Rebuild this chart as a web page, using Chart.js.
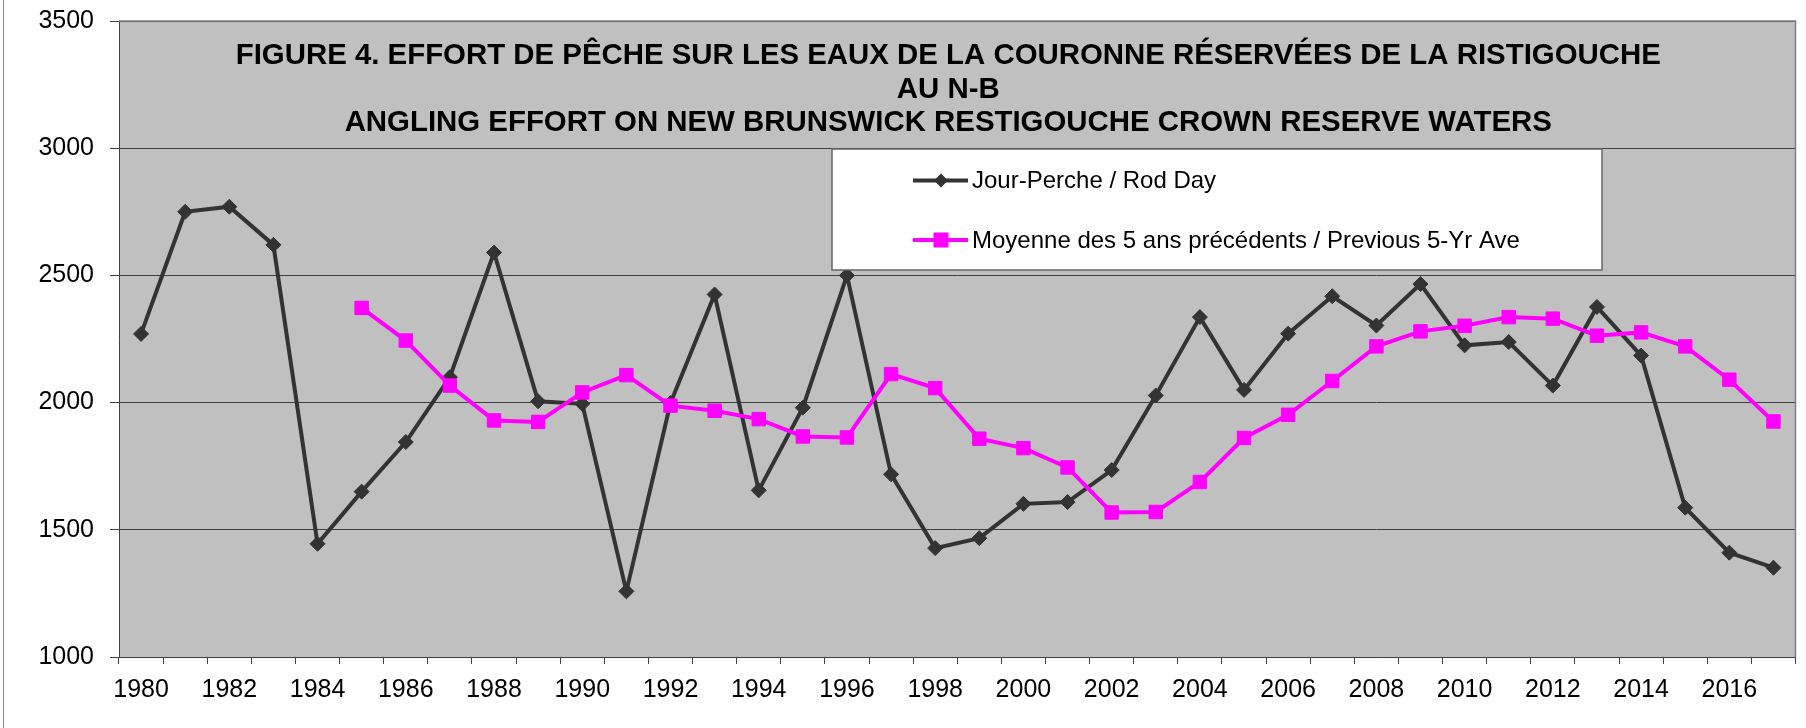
<!DOCTYPE html>
<html>
<head>
<meta charset="utf-8">
<script src="https://cdn.jsdelivr.net/npm/chart.js@4.4.1/dist/chart.umd.min.js"></script>
<style>
  html, body { margin: 0; padding: 0; background: #ffffff; }
  #wrap { width: 1806px; height: 728px; position: relative; }
</style>
</head>
<body>
<div id="wrap"><canvas id="myChart" width="1806" height="728"></canvas></div>
<script>
// Categories (years)
const years = ['1980','1981','1982','1983','1984','1985','1986','1987','1988','1989',
               '1990','1991','1992','1993','1994','1995','1996','1997','1998','1999',
               '2000','2001','2002','2003','2004','2005','2006','2007','2008','2009',
               '2010','2011','2012','2013','2014','2015','2016','2017'];

// Jour-Perche / Rod Day
const rodDays = [2270, 2750, 2770, 2620, 1445, 1650, 1845, 2100, 2590, 2005,
                 1995, 1258, 1998, 2425, 1655, 1980, 2500, 1718, 1428, 1467,
                 1602, 1609, 1735, 2028, 2336, 2050, 2271, 2418, 2303, 2466,
                 2225, 2238, 2067, 2376, 2185, 1587, 1410, 1351];

// Moyenne des 5 ans précédents / Previous 5-Yr Ave
const prevAve = [null, null, null, null, null, 2372, 2244, 2067, 1930, 1924,
                 2040, 2108, 1988, 1968, 1935, 1867, 1863, 2112, 2057, 1858,
                 1821, 1745, 1568, 1570, 1688, 1861, 1952, 2085, 2221, 2280,
                 2302, 2336, 2330, 2263, 2276, 2221, 2090, 1926];

const yTicks = [1000, 1500, 2000, 2500, 3000, 3500];

const titleLines = [
  'FIGURE 4. EFFORT DE PÊCHE SUR LES EAUX DE LA COURONNE RÉSERVÉES DE LA RISTIGOUCHE',
  'AU N-B',
  'ANGLING EFFORT ON NEW BRUNSWICK RESTIGOUCHE CROWN RESERVE WATERS'
];

const FONT = '"Liberation Sans", Arial, sans-serif';
Chart.defaults.font.family = FONT;
Chart.defaults.color = '#000000';

// gray plot background + outer border line
const plotBg = {
  id: 'plotBg',
  beforeDraw(chart) {
    const { ctx, chartArea: a } = chart;
    ctx.save();
    ctx.fillStyle = '#c0c0c0';
    ctx.fillRect(a.left, a.top, a.right - a.left, a.bottom - a.top);
    ctx.strokeStyle = '#888888';
    ctx.lineWidth = 1;
    ctx.beginPath();
    ctx.moveTo(3.5, 0);
    ctx.lineTo(3.5, 728);
    ctx.stroke();
    ctx.restore();
  },
  afterDraw(chart) {
    const { ctx, chartArea: a } = chart;
    ctx.save();
    ctx.strokeStyle = '#808080';
    ctx.lineWidth = 1.5;
    ctx.beginPath();
    ctx.moveTo(a.left, a.top);
    ctx.lineTo(a.right, a.top);
    ctx.lineTo(a.right, a.bottom);
    ctx.stroke();
    ctx.restore();
  }
};

// title drawn inside the plot area
const titleInside = {
  id: 'titleInside',
  beforeDatasetsDraw(chart) {
    const { ctx, chartArea: a } = chart;
    ctx.save();
    ctx.font = 'bold 29.4px ' + FONT;
    ctx.fillStyle = '#000000';
    ctx.textAlign = 'center';
    ctx.textBaseline = 'middle';
    const cx = (a.left + a.right) / 2 - 9;
    titleLines.forEach((t, i) => ctx.fillText(t, cx, a.top + 35 + i * 33.5));
    ctx.restore();
  }
};

// legend box inside the plot area
const legendBox = {
  id: 'legendBox',
  afterDatasetsDraw(chart) {
    const { ctx } = chart;
    const box = { x: 832, y: 149, w: 770, h: 121 };
    ctx.save();
    ctx.fillStyle = '#ffffff';
    ctx.fillRect(box.x, box.y, box.w, box.h);
    ctx.strokeStyle = '#666666';
    ctx.lineWidth = 1.5;
    ctx.strokeRect(box.x, box.y, box.w, box.h);

    const rows = [180.5, 240];
    chart.data.datasets.forEach((ds, i) => {
      const y = rows[i];
      ctx.strokeStyle = ds.borderColor;
      ctx.lineWidth = 4;
      ctx.beginPath();
      ctx.moveTo(913, y);
      ctx.lineTo(968, y);
      ctx.stroke();
      ctx.fillStyle = ds.backgroundColor;
      ctx.beginPath();
      if (ds.pointStyle === 'rectRot') {
        const r = 7;
        ctx.moveTo(941 - r, y); ctx.lineTo(941, y - r);
        ctx.lineTo(941 + r, y); ctx.lineTo(941, y + r);
      } else {
        const s = 7.5;
        ctx.rect(941 - s, y - s, 2 * s, 2 * s);
      }
      ctx.closePath();
      ctx.fill();
      ctx.fillStyle = '#000000';
      ctx.font = '24px ' + FONT;
      ctx.textAlign = 'left';
      ctx.textBaseline = 'middle';
      ctx.fillText(ds.label, 972, y + 1);
    });
    ctx.restore();
  }
};

const ctx = document.getElementById('myChart').getContext('2d');
const myChart = new Chart(ctx, {
  type: 'line',
  data: {
    labels: years,
    datasets: [{
      label: 'Jour-Perche / Rod Day',
      data: rodDays,
      borderColor: '#333333',
      backgroundColor: '#333333',
      borderWidth: 4,
      pointStyle: 'rectRot',
      pointRadius: 7.5,
      pointBorderWidth: 1,
      tension: 0,
      order: 1
    }, {
      label: 'Moyenne des 5 ans précédents / Previous 5-Yr Ave',
      data: prevAve,
      borderColor: '#ff00ff',
      backgroundColor: '#ff00ff',
      borderWidth: 4,
      pointStyle: 'rect',
      pointRadius: 9.5,
      pointBorderWidth: 1,
      tension: 0,
      spanGaps: false,
      order: 0
    }]
  },
  options: {
    responsive: false,
    animation: false,
    layout: { padding: { top: 21, right: 3, left: 0, bottom: 0 } },
    plugins: {
      legend: { display: false },
      title: { display: false },
      tooltip: { enabled: false }
    },
    scales: {
      x: {
        offset: true,
        grid: { offset: true, drawOnChartArea: false, drawTicks: true, tickLength: 7, color: '#404040' },
        border: { color: '#404040', width: 1 },
        ticks: {
          autoSkip: false, maxRotation: 0, minRotation: 0, padding: 11,
          color: '#000000', font: { size: 25 },
          callback: function(v, i) { return Number(years[i]) % 2 === 0 ? years[i] : ''; }
        },
        afterFit: s => { s.height = 71; s.paddingLeft = 0; s.paddingRight = 0; }
      },
      y: {
        min: 1000, max: 3500,
        afterBuildTicks: s => { s.ticks = yTicks.map(v => ({ value: v })); },
        ticks: { padding: 16, color: '#000000', font: { size: 25 }, callback: v => String(v) },
        grid: { color: '#404040', lineWidth: 1, tickLength: 9 },
        border: { color: '#404040', width: 1 },
        afterFit: s => { s.width = 119; s.paddingTop = 0; s.paddingBottom = 0; }
      }
    }
  },
  plugins: [plotBg, titleInside, legendBox]
});
</script>
</body>
</html>
